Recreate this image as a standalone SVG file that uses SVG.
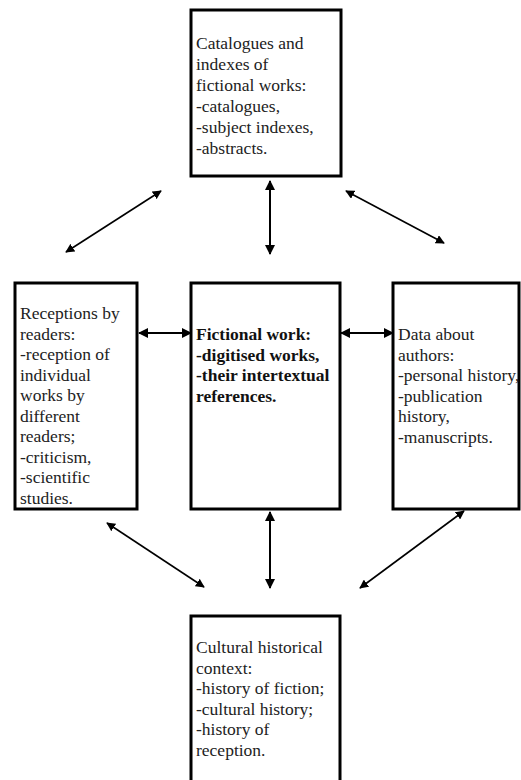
<svg xmlns="http://www.w3.org/2000/svg" width="521" height="780" viewBox="0 0 521 780">
<style>
.box{fill:#fff;stroke:#000;stroke-width:3}
.t{font-family:"Liberation Serif","Times New Roman",serif;font-size:17.5px;fill:#222}
.b{font-weight:bold;fill:#111}
.c{stroke:#000;fill:none}
.s{stroke-width:2}
.d{stroke-width:1.6}
</style>
<defs>
<marker id="ah" viewBox="0 0 10 10" refX="9" refY="5" markerWidth="10" markerHeight="10" markerUnits="userSpaceOnUse" orient="auto-start-reverse">
<path d="M0,0 L10,5 L0,10 z" fill="#000"/>
</marker>
<marker id="ahs" viewBox="0 0 10 10" refX="9" refY="5" markerWidth="9" markerHeight="9" markerUnits="userSpaceOnUse" orient="auto-start-reverse">
<path d="M0,0 L10,5 L0,10 z" fill="#000"/>
</marker>
</defs>
<rect width="521" height="780" fill="#fff"/>
<g id="top">
<rect class="box" x="191" y="10" width="150" height="166"/>
<text class="t"><tspan x="196" y="49">Catalogues and</tspan><tspan x="196" y="70">indexes of</tspan><tspan x="196" y="91">fictional works:</tspan><tspan x="196" y="112">-catalogues,</tspan><tspan x="196" y="133">-subject indexes,</tspan><tspan x="196" y="154">-abstracts.</tspan></text>
</g>
<g id="left">
<rect class="box" x="15" y="283" width="122" height="226"/>
<text class="t"><tspan x="20" y="319">Receptions by</tspan><tspan x="20" y="339.5">readers:</tspan><tspan x="20" y="360">-reception of</tspan><tspan x="20" y="380.5">individual</tspan><tspan x="20" y="401">works by</tspan><tspan x="20" y="421.5">different</tspan><tspan x="20" y="442">readers;</tspan><tspan x="20" y="462.5">-criticism,</tspan><tspan x="20" y="483">-scientific</tspan><tspan x="20" y="503.5">studies.</tspan></text>
</g>
<g id="center">
<rect class="box" x="191" y="283" width="149" height="226"/>
<text class="t b"><tspan x="196" y="340">Fictional work:</tspan><tspan x="196" y="360.5">-digitised works,</tspan><tspan x="196" y="381">-their intertextual</tspan><tspan x="196" y="401.5">references.</tspan></text>
</g>
<g id="right">
<rect class="box" x="393" y="283" width="126" height="226"/>
<text class="t"><tspan x="398" y="340">Data about</tspan><tspan x="398" y="360.5">authors:</tspan><tspan x="398" y="381">-personal history,</tspan><tspan x="398" y="401.5">-publication</tspan><tspan x="398" y="422">history,</tspan><tspan x="398" y="442.5">-manuscripts.</tspan></text>
</g>
<g id="bottom">
<rect class="box" x="191" y="616" width="149" height="170"/>
<text class="t"><tspan x="196" y="653">Cultural historical</tspan><tspan x="196" y="673.5">context:</tspan><tspan x="196" y="694">-history of fiction;</tspan><tspan x="196" y="714.5">-cultural history;</tspan><tspan x="196" y="735">-history of</tspan><tspan x="196" y="755.5">reception.</tspan></text>
</g>
<g id="connectors">
<line class="c d" x1="66" y1="252" x2="161" y2="191" marker-start="url(#ahs)" marker-end="url(#ahs)"/>
<line class="c s" x1="270" y1="181" x2="270" y2="254" marker-start="url(#ah)" marker-end="url(#ah)"/>
<line class="c d" x1="346" y1="191" x2="444" y2="243" marker-start="url(#ahs)" marker-end="url(#ahs)"/>
<line class="c s" x1="139" y1="333" x2="191" y2="333" marker-start="url(#ah)" marker-end="url(#ah)"/>
<line class="c s" x1="341" y1="333" x2="393" y2="333" marker-start="url(#ah)" marker-end="url(#ah)"/>
<line class="c d" x1="107" y1="523" x2="204" y2="587" marker-start="url(#ahs)" marker-end="url(#ahs)"/>
<line class="c s" x1="270" y1="512" x2="270" y2="588" marker-start="url(#ah)" marker-end="url(#ah)"/>
<line class="c d" x1="464" y1="511" x2="360" y2="588" marker-start="url(#ahs)" marker-end="url(#ahs)"/>
</g>
</svg>
